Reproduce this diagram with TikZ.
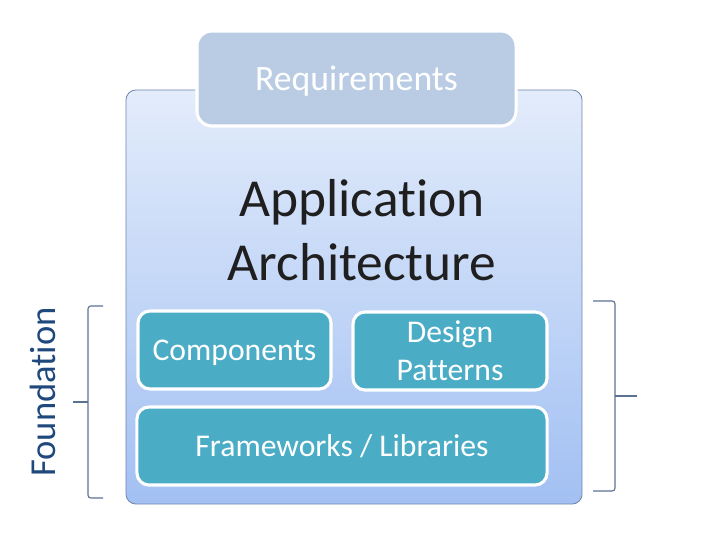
\documentclass[tikz,border=0pt]{standalone}
\usepackage{fontspec}
\setmainfont{Carlito}[RawFeature={-liga;-dlig}]
\usetikzlibrary{positioning}
\definecolor{archtop}{HTML}{E3ECFB}
\definecolor{archbot}{HTML}{A2C0F3}
\definecolor{archline}{HTML}{7389AB}
\definecolor{reqfill}{HTML}{B9CCE4}
\definecolor{partfill}{HTML}{4BACC6}
\definecolor{bracecol}{HTML}{5B7193}
\definecolor{foundcol}{HTML}{1F497D}

\begin{document}
\begin{tikzpicture}[x=0.025cm, y=-0.025cm,
    part/.style={rounded corners=0.3cm, fill=partfill, draw=white, line width=2.2pt,
      text=white, font=\fontsize{22.5}{27}\selectfont, align=center,
      minimum height=1.95cm, inner sep=0pt},
    brace/.style={draw=bracecol, line width=0.8pt, rounded corners=2pt}]
  \useasboundingbox (0, 0) rectangle (720, 540);
  % outer block
  \node[rounded corners=0.25cm, top color=archtop, bottom color=archbot,
    draw=archline, line width=0.6pt, minimum width=11.4cm, minimum height=10.35cm]
    (arch) at (354, 297) {};
  \node[font=\fontsize{38}{45.5}\selectfont, align=center, text=black!88]
    (archtext) at (362, 230) {Application\\Architecture};
  \node[rounded corners=0.375cm, fill=reqfill, draw=white, line width=2.2pt,
    text=white, font=\fontsize{25.4}{30}\selectfont, text depth=0pt,
    minimum width=7.975cm, minimum height=2.375cm] (req) at (356.5, 78.5) {Requirements};
  % parts
  \node[part, text depth=0pt, minimum width=4.825cm] (comp) at (234.5, 350) {Components};
  \node[part, minimum width=4.85cm] (pat) at (450, 351) {Design\\Patterns};
  \node[part, text depth=0pt, minimum width=10.25cm] (fw) at (342, 446) {Frameworks / Libraries};
  % braces
  \draw[brace] (103, 306) -- (88, 306) -- (88, 498) -- (103, 498);
  \draw[brace] (88, 402) -- (73, 402);
  \draw[brace] (593, 301) -- (615, 301) -- (615, 491) -- (593, 491);
  \draw[brace] (615, 396) -- (637, 396);
  \node[rotate=90, text=foundcol, font=\fontsize{26}{30}\selectfont]
    (found) at (43, 392) {Foundation};
\end{tikzpicture}
\end{document}
